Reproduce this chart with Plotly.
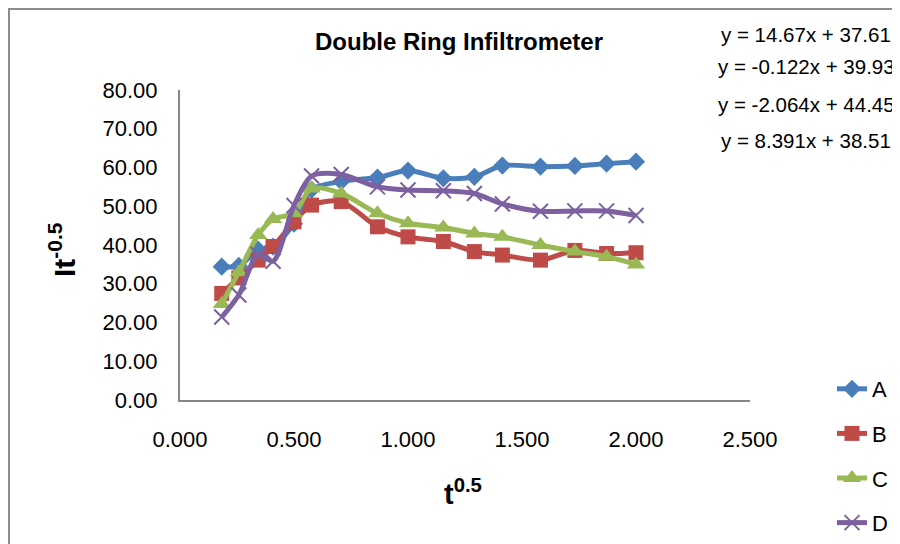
import plotly.graph_objects as go

# ---- data ----
t05 = [0.183, 0.258, 0.343, 0.408, 0.500, 0.577, 0.707, 0.866, 1.000,
       1.155, 1.291, 1.414, 1.581, 1.732, 1.871, 2.000]
series_names = ["A", "B", "C", "D"]
A = [34.4, 34.6, 38.8, 39.6, 45.5, 54.3, 56.4, 57.4, 59.2, 57.2, 57.6, 60.5, 60.2, 60.4, 61.0, 61.5]
B = [27.5, 31.5, 36.1, 39.6, 46.0, 50.3, 51.2, 44.7, 42.1, 40.9, 38.3, 37.4, 36.1, 38.6, 37.8, 38.0]
C = [24.8, 33.0, 42.6, 46.7, 48.2, 54.6, 53.3, 48.2, 45.6, 44.5, 43.0, 42.1, 40.0, 38.3, 37.0, 35.0]
D = [21.4, 27.1, 37.6, 35.8, 50.2, 57.8, 58.2, 55.0, 54.2, 54.0, 53.3, 50.6, 48.7, 48.8, 48.8, 47.6]
equations = ["y = 14.67x + 37.61", "y = -0.122x + 39.93",
             "y = -2.064x + 44.45", "y = 8.391x + 38.51"]
x_ticks = [0.0, 0.5, 1.0, 1.5, 2.0, 2.5]
y_ticks = [0, 10, 20, 30, 40, 50, 60, 70, 80]

colors = ["#4A7EBB", "#BE4B48", "#98B954", "#7D60A0"]
symbols = ["diamond", "square", "triangle-up", "x-thin"]
sizes = [14, 15, 16, 15]

# the page body adds an 8px offset; size the figure to fit the window
OFF = 8
W, H = 900 - OFF, 544 - OFF
# plot area in page pixels: x 180..750, y 90..400
L = 180 - OFF
T = 90 - OFF
PW, PH = 570, 310
R = W - L - PW
B_ = H - T - PH

def px(xpage):
    return (xpage - OFF - L) / PW

def py(ypage):
    return (T + PH - (ypage - OFF)) / PH

FONT = "Liberation Sans, Arial, sans-serif"

fig = go.Figure()
for i, (name, ys) in enumerate(zip(series_names, [A, B, C, D])):
    mk = dict(symbol=symbols[i], size=sizes[i], color=colors[i])
    if symbols[i] == "x-thin":
        mk["line"] = dict(color=colors[i], width=2)
    fig.add_trace(go.Scatter(
        x=t05, y=ys, name=name, mode="lines+markers",
        line=dict(color=colors[i], width=5, shape="spline", smoothing=0.8),
        marker=mk, legendgroup=name,
    ))

annotations = [
    dict(text="<b>It<sup>-0.5</sup></b>", x=px(62), y=py(250), xref="paper", yref="paper",
         showarrow=False, textangle=-90, font=dict(family=FONT, size=30, color="#000"),
         xanchor="center", yanchor="middle"),
    dict(text="<b>t<sup>0.5</sup></b>", x=px(463), y=py(492), xref="paper", yref="paper",
         showarrow=False, font=dict(family=FONT, size=29, color="#000"),
         xanchor="center", yanchor="middle"),
]
eq_y = [35, 67, 104, 140]
for eq, yy in zip(equations, eq_y):
    annotations.append(dict(text=eq, x=px(806), y=py(yy), xref="paper", yref="paper",
                            showarrow=False, font=dict(family=FONT, size=20.5, color="#000"),
                            xanchor="center", yanchor="middle"))

fig.update_layout(
    width=W, height=H,
    margin=dict(l=L, r=R, t=T, b=B_, autoexpand=False, pad=0),
    paper_bgcolor="white", plot_bgcolor="white",
    title=dict(text="<b>Double Ring Infiltrometer</b>", xref="container", yref="container",
               x=(459 - OFF) / W, xanchor="center",
               y=1 - (42 - OFF) / H, yanchor="middle",
               font=dict(family=FONT, size=24, color="#000")),
    xaxis=dict(range=[0, 2.5], tickvals=x_ticks, tickformat=".3f",
               showgrid=False, zeroline=False, showline=True, linecolor="#868686",
               linewidth=2, ticks="", ticklabelstandoff=19, automargin=False,
               tickfont=dict(family=FONT, size=22, color="#000")),
    yaxis=dict(range=[0, 80], tickvals=y_ticks, tickformat=".2f",
               showgrid=False, zeroline=False, showline=True, linecolor="#868686",
               linewidth=2, ticks="", ticklabelstandoff=16, automargin=False,
               tickfont=dict(family=FONT, size=22, color="#000")),
    legend=dict(x=px(832), y=py(368), xanchor="left", yanchor="top",
                font=dict(family=FONT, size=22, color="#000"),
                tracegroupgap=13, bgcolor="rgba(0,0,0,0)"),
    showlegend=True,
    annotations=annotations,
    shapes=[dict(type="rect", xref="paper", yref="paper",
                 x0=px(9), y0=py(700), x1=px(1100), y1=py(9),
                 line=dict(color="#8C8C8C", width=2), layer="below")],
)

fig.write_html("out.html")
